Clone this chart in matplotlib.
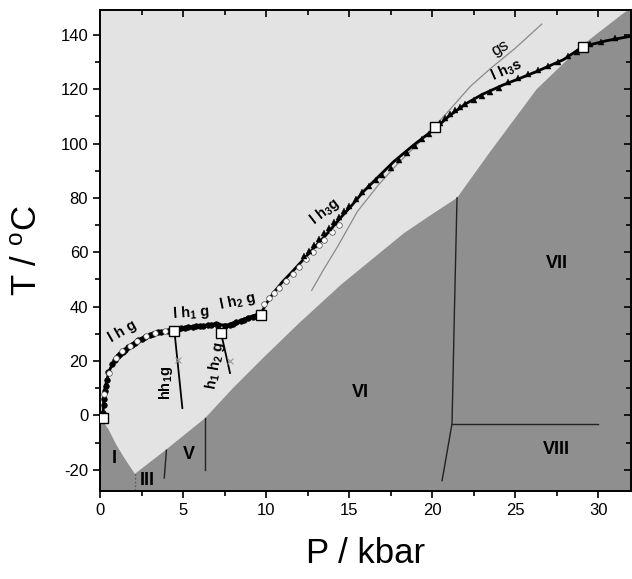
import numpy as np
import matplotlib
matplotlib.use("Agg")
import matplotlib.pyplot as plt
import matplotlib.lines as mlines
from matplotlib.ticker import MultipleLocator

plt.rcParams['font.family'] = ['Liberation Sans', 'DejaVu Sans']
plt.rcParams['mathtext.fontset'] = 'custom'
plt.rcParams['mathtext.rm'] = 'Liberation Sans'
plt.rcParams['mathtext.it'] = 'Liberation Sans'
plt.rcParams['mathtext.bf'] = 'Liberation Sans:bold'
plt.rcParams['axes.unicode_minus'] = False

# ---------------- data ----------------
# ice phase boundaries (melting curves)
ice_I_P = [-0.5, 0.0, 0.5, 1.0, 1.5, 2.1]
ice_I_T = [3.0, -0.5, -5.0, -11.0, -16.0, -21.5]
ice_III_V_P = [2.1, 4.0, 6.33]
ice_III_V_T = [-21.5, -12.5, -1.0]
ice_VI_P = [6.33, 8.0, 9.8, 12.0, 14.5, 16.9, 18.3, 20.0, 21.5]
ice_VI_T = [-1.0, 10.0, 21.0, 34.0, 48.0, 60.0, 67.0, 74.0, 80.0]
ice_VII_P = [21.5, 23.5, 26.3, 29.1, 31.5, 33.0]
ice_VII_T = [80.0, 97.0, 120.0, 136.4, 147.8, 154.0]

# solid-solid boundaries
b_I_III_P = [2.1, 2.1]
b_I_III_T = [-21.5, -28.0]
b_III_V_P = [3.87, 4.0]
b_III_V_T = [-23.0, -12.8]
b_V_VI_P = [6.33, 6.33]
b_V_VI_T = [-1.0, -20.0]
b_VI_VII_P = [21.5, 21.35, 21.2, 20.6]
b_VI_VII_T = [80.0, 40.0, -3.0, -24.0]
b_VII_VIII_P = [21.2, 30.0]
b_VII_VIII_T = [-3.0, -3.0]

# hydrate equilibrium curve
curve_P = [0.18, 0.2, 0.25, 0.3, 0.45, 0.6, 0.8, 1.0, 1.3, 1.6, 2.0, 2.4, 2.9, 3.4,
           4.0, 4.48, 5.0, 5.7, 6.4, 6.9, 7.3, 7.7, 8.3, 9.1, 9.7, 10.0, 10.5, 11.0,
           11.6, 12.3, 13.05, 13.7, 14.46, 15.2, 15.86, 16.8, 17.7, 18.9, 20.2, 21.0,
           22.0, 23.0, 24.3, 25.3, 26.3, 27.9, 29.1, 30.5, 32.0]
curve_T = [-1.0, 3.0, 7.0, 10.0, 14.0, 17.0, 19.5, 21.0, 23.0, 24.7, 26.5, 28.0, 29.3, 30.3,
           31.0, 31.8, 32.2, 32.7, 33.2, 33.7, 33.3, 33.3, 34.5, 36.4, 37.5, 41.0, 45.5, 49.2,
           53.0, 57.7, 62.7, 67.0, 72.5, 77.5, 82.3, 88.0, 93.4, 99.5, 105.6, 110.0,
           114.5, 118.0, 121.6, 124.0, 126.5, 130.8, 135.7, 137.8, 139.5]

filled_P = [0.2, 0.22, 0.25, 0.3, 0.35, 0.4, 0.5, 0.7, 0.9, 1.1, 1.2, 1.4, 1.5, 1.7, 1.9,
            2.1, 2.3, 2.5, 2.7, 3.0, 3.2, 3.5, 3.7, 4.1, 4.3, 4.7, 4.9, 5.1, 5.3, 5.6,
            5.8, 6.0, 6.2, 6.5, 6.7, 7.0, 7.1, 7.5, 7.8, 8.0, 8.2, 8.5, 8.7, 8.9, 9.2,
            9.4, 9.6]
filled_T = [1.0, 4.0, 6.0, 9.0, 11.0, 13.0, 16.0, 19.0, 20.5, 22.0, 22.5, 23.5, 24.2, 25.0, 26.0,
            26.8, 27.6, 28.2, 28.8, 29.5, 29.9, 30.5, 30.7, 31.2, 31.4, 31.9, 32.0, 32.2, 32.4, 32.6,
            32.7, 32.8, 33.0, 33.1, 33.2, 33.6, 33.4, 32.8, 33.3, 33.8, 34.2, 34.8, 35.2, 35.7, 36.2,
            36.6, 37.1]

open_P = [0.27, 0.55, 0.95, 1.35, 1.8, 2.2, 2.8, 3.3, 3.9,
          9.9, 10.2, 10.5, 10.8, 11.2, 11.6, 12.0, 12.4, 12.8, 13.2, 13.5, 14.0, 14.4]
open_T = [8.0, 15.5, 21.0, 23.8, 25.5, 27.2, 29.2, 30.3, 31.1,
          41.0, 43.0, 45.0, 47.0, 49.5, 52.0, 54.5, 57.5, 60.0, 62.5, 64.5, 67.5, 70.0]

tri_P = [12.3, 12.6, 12.9, 13.2, 13.5, 13.8, 14.1, 14.4, 14.7, 15.0, 15.4, 15.8, 16.2, 16.6,
         17.0, 17.5, 18.0, 18.5, 19.0, 19.4, 19.8,
         20.5, 20.8, 21.1, 21.4, 21.7, 22.0, 22.5, 23.0, 23.5, 24.0, 24.6, 25.2, 25.8, 26.4,
         27.0, 27.6, 28.2, 28.7, 29.5, 30.2, 31.0]
tri_T = [58.5, 60.5, 62.5, 65.0, 67.0, 69.0, 71.0, 73.0, 75.0, 77.0, 79.5, 82.0, 84.5, 86.5,
         88.5, 91.0, 94.0, 96.5, 99.0, 101.5, 103.5,
         107.5, 109.5, 111.0, 112.5, 113.5, 114.5, 116.0, 117.5, 119.0, 120.5, 122.5, 124.0, 125.5, 127.0,
         128.5, 130.0, 132.0, 133.5, 136.5, 137.5, 138.8]

# quadruple points (open squares)
quad_P = [0.18, 4.48, 7.29, 9.70, 20.2, 29.1]
quad_T = [-1.1, 31.1, 30.3, 37.0, 105.9, 135.4]

# h h1 g and h1 h2 g lines
hh1g_P = [4.48, 4.96]
hh1g_T = [31.1, 2.7]
h1h2g_P = [7.29, 7.83]
h1h2g_T = [30.3, 15.6]
star_P = [4.70, 7.83]
star_T = [20.5, 19.9]

# g s line
gs_P = [12.75, 13.5, 14.3, 15.5, 16.8, 18.0, 19.5, 21.0, 22.3, 23.5, 25.0, 26.6]
gs_T = [46.0, 54.0, 62.0, 75.0, 85.0, 93.0, 102.0, 112.0, 121.0, 127.5, 135.0, 143.9]

# ---------------- figure ----------------
light = '#e3e3e3'
dark = '#8f8f8f'

fig = plt.figure(figsize=(6.32, 5.79), dpi=100)
ax = fig.add_axes([100/632, 1 - 491/579, 1 - 100/632 - 0.001, (491 - 10)/579])
ax.set_xlim(0, 32.0)
ax.set_ylim(-27.8, 149.1)
ax.set_facecolor(light)

# dark polygon of ice phases
poly_P = ice_I_P + ice_III_V_P[1:] + ice_VI_P[1:] + ice_VII_P[1:] + [40, 40, -1]
poly_T = ice_I_T + ice_III_V_T[1:] + ice_VI_T[1:] + ice_VII_T[1:] + [154, -40, -40]
ax.fill(poly_P, poly_T, color=dark, lw=0, zorder=1)

lc = '#222222'
ax.plot(b_I_III_P, b_I_III_T, color='#555555', lw=1.0, ls=':', zorder=2)
ax.plot(b_III_V_P, b_III_V_T, color=lc, lw=1.0, zorder=2)
ax.plot(b_V_VI_P, b_V_VI_T, color=lc, lw=1.0, zorder=2)
ax.plot(b_VI_VII_P, b_VI_VII_T, color=lc, lw=1.0, zorder=2)
ax.plot(b_VII_VIII_P, b_VII_VIII_T, color=lc, lw=1.0, zorder=2)

ax.plot(gs_P, gs_T, color='#8a8a8a', lw=0.9, zorder=2)

ax.plot(hh1g_P, hh1g_T, color='black', lw=1.3, zorder=3)
ax.plot(h1h2g_P, h1h2g_T, color='black', lw=1.3, zorder=3)
ax.plot(star_P, star_T, ls='none', marker='x', ms=5, mew=0.8, color='#9a9a9a', zorder=3)

ax.plot(curve_P, curve_T, color='black', lw=2.0, zorder=4)
ax.plot(filled_P, filled_T, ls='none', marker='o', ms=4.0, mfc='black', mec='black', mew=0.5, zorder=5)
ax.plot(open_P, open_T, ls='none', marker='o', ms=4.0, mfc='white', mec='#444444', mew=0.5, zorder=5)
ax.plot(tri_P, tri_T, ls='none', marker='^', ms=4.2, mfc='black', mec='black', mew=0.3, zorder=5)
ax.plot(quad_P, quad_T, ls='none', marker='s', ms=7.5, mfc='white', mec='black', mew=1.0, zorder=6)

# labels along curves
lab_kw = dict(fontsize=10.5, fontweight='bold', color='black', ha='center', va='center', zorder=7)
ax.text(1.38, 30.8, r'l h g', rotation=30, **lab_kw)
ax.text(5.5, 37.8, r'l h$_\mathbf{1}$ g', rotation=4, **lab_kw)
ax.text(8.27, 41.8, r'l h$_\mathbf{2}$ g', rotation=12, **lab_kw)
ax.text(4.0, 11.8, r'hh$_\mathbf{1}$g', rotation=90, **lab_kw)
ax.text(6.95, 18.5, r'h$_\mathbf{1}$ h$_\mathbf{2}$ g', rotation=80, **lab_kw)
ax.text(13.5, 74.9, r'l h$_\mathbf{3}$g', rotation=38, **lab_kw)
ax.text(24.1, 135.0, r'gs', rotation=30, **dict(lab_kw, fontweight='normal', fontsize=12))
ax.text(24.5, 127.0, r'l h$_\mathbf{3}$s', rotation=24, **lab_kw)

# phase region labels
reg_kw = dict(fontsize=13, fontweight='bold', color='black', ha='center', va='center', zorder=7)
ax.text(15.7, 8.6, 'VI', **reg_kw)
ax.text(27.5, 56.0, 'VII', **reg_kw)
ax.text(27.5, -12.7, 'VIII', **reg_kw)
ax.text(0.86, -15.7, 'I', **reg_kw)
ax.text(2.86, -24.0, 'III', **reg_kw)
ax.text(5.37, -14.5, 'V', **reg_kw)

# axes styling
ax.xaxis.set_major_locator(MultipleLocator(5))
ax.xaxis.set_minor_locator(MultipleLocator(2.5))
ax.yaxis.set_major_locator(MultipleLocator(20))
ax.yaxis.set_minor_locator(MultipleLocator(10))
ax.tick_params(which='both', direction='out', top=True, right=True, width=1.2, labelsize=12)
ax.tick_params(which='major', length=5)
ax.tick_params(which='minor', length=3.5)
for sp in ax.spines.values():
    sp.set_linewidth(1.4)
# top/right ticks point inward
for t in ax.xaxis.get_major_ticks() + ax.xaxis.get_minor_ticks():
    t.tick2line.set_marker(mlines.TICKDOWN)
for t in ax.yaxis.get_major_ticks() + ax.yaxis.get_minor_ticks():
    t.tick2line.set_marker(mlines.TICKLEFT)

ax.set_xlabel('P / kbar', fontsize=25, labelpad=14)
ax.set_ylabel(r'T / $^\mathregular{o}$C', fontsize=25, labelpad=12)

fig.savefig('out.png', dpi=100)
